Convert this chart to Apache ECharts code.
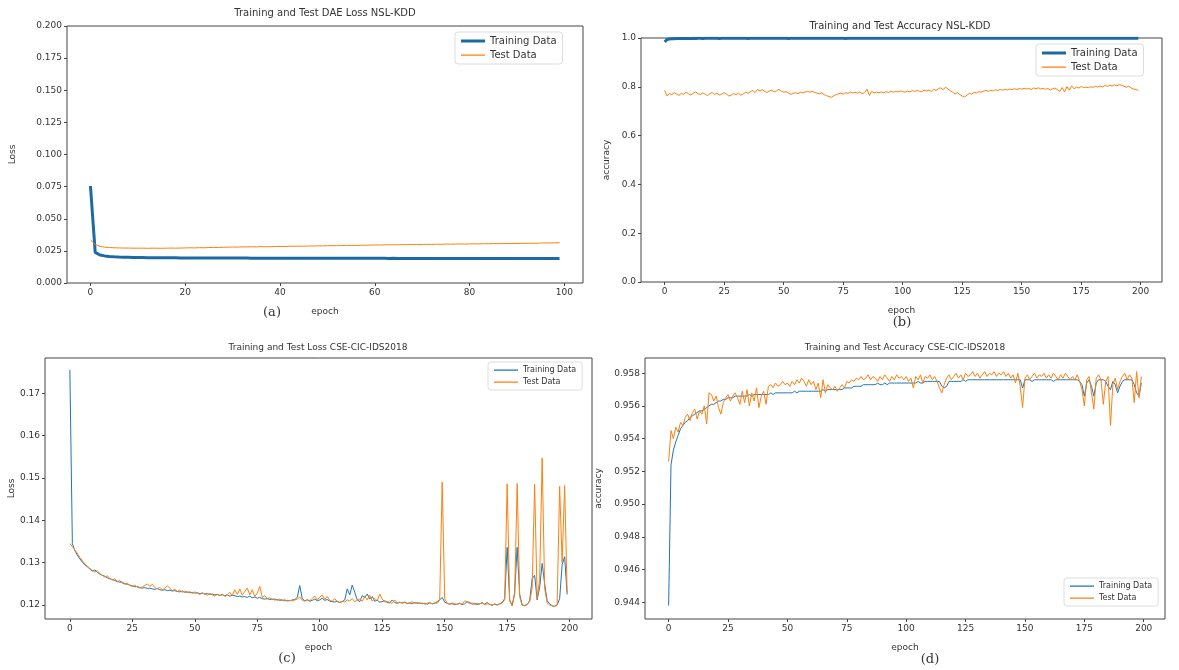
<!DOCTYPE html>
<html>
<head>
<meta charset="utf-8">
<script src="https://cdn.jsdelivr.net/npm/echarts@6/dist/echarts.min.js"></script>
<style>
  html, body { margin: 0; padding: 0; background: #fff; }
  #main { width: 1179px; height: 670px; }
</style>
</head>
<body>
<div id="main"></div>
<script>
// (a) DAE loss NSL-KDD, 100 epochs
var trainLossA = [
  0.0755, 0.0238, 0.0218, 0.0211, 0.0207, 0.0204, 0.0202, 0.0201, 0.0200, 0.0199,
  0.0198, 0.0198, 0.0197, 0.0197, 0.0197, 0.0196, 0.0196, 0.0196, 0.0196, 0.0195,
  0.0195, 0.0195, 0.0195, 0.0195, 0.0195, 0.0194, 0.0194, 0.0194, 0.0194, 0.0194,
  0.0194, 0.0194, 0.0194, 0.0194, 0.0193, 0.0193, 0.0193, 0.0193, 0.0193, 0.0193,
  0.0193, 0.0193, 0.0193, 0.0193, 0.0193, 0.0193, 0.0192, 0.0193, 0.0192, 0.0192,
  0.0192, 0.0192, 0.0192, 0.0192, 0.0192, 0.0192, 0.0192, 0.0192, 0.0192, 0.0192,
  0.0192, 0.0192, 0.0192, 0.0191, 0.0192, 0.0191, 0.0191, 0.0191, 0.0191, 0.0191,
  0.0191, 0.0191, 0.0191, 0.0191, 0.0191, 0.0191, 0.0191, 0.0191, 0.0191, 0.0191,
  0.0191, 0.0190, 0.0191, 0.0190, 0.0190, 0.0190, 0.0190, 0.0190, 0.0190, 0.0190,
  0.0190, 0.0190, 0.0190, 0.0190, 0.0190, 0.0190, 0.0190, 0.0190, 0.0190, 0.0190
];
var testLossA = [
  0.0335, 0.0300, 0.0285, 0.0279, 0.0276, 0.0274, 0.0273, 0.0272, 0.0272, 0.0271,
  0.0271, 0.0271, 0.0270, 0.0271, 0.0271, 0.0270, 0.0271, 0.0272, 0.0271, 0.0272,
  0.0273, 0.0274, 0.0273, 0.0275, 0.0274, 0.0276, 0.0277, 0.0276, 0.0278, 0.0279,
  0.0280, 0.0279, 0.0281, 0.0281, 0.0282, 0.0281, 0.0283, 0.0282, 0.0283, 0.0284,
  0.0285, 0.0284, 0.0286, 0.0286, 0.0287, 0.0286, 0.0288, 0.0288, 0.0289, 0.0289,
  0.0290, 0.0291, 0.0290, 0.0292, 0.0292, 0.0293, 0.0292, 0.0294, 0.0294, 0.0295,
  0.0296, 0.0295, 0.0297, 0.0298, 0.0297, 0.0298, 0.0299, 0.0298, 0.0300, 0.0299,
  0.0300, 0.0301, 0.0300, 0.0302, 0.0301, 0.0303, 0.0302, 0.0303, 0.0304, 0.0303,
  0.0304, 0.0305, 0.0304, 0.0306, 0.0305, 0.0307, 0.0306, 0.0307, 0.0308, 0.0307,
  0.0308, 0.0309, 0.0308, 0.0310, 0.0309, 0.0311, 0.0312, 0.0311, 0.0313, 0.0314
];

// (b) accuracy NSL-KDD, 200 epochs
var trainAccB = [
  0.984, 0.994, 0.996, 0.997, 0.997, 0.998, 0.998, 0.998, 0.998, 0.998,
  0.998, 0.998, 0.999, 0.998, 0.999, 0.999, 0.998, 0.999, 0.999, 0.999,
  0.999, 0.999, 0.999, 0.998, 0.999, 0.999, 0.999, 0.999, 0.999, 0.999,
  0.999, 0.999, 0.999, 0.999, 0.999, 0.998, 0.999, 0.999, 0.999, 0.999,
  0.999, 0.999, 0.999, 0.999, 0.999, 0.999, 0.999, 0.999, 0.999, 0.999,
  0.999, 0.999, 0.998, 0.999, 0.999, 0.999, 0.999, 0.999, 0.999, 0.999,
  0.999, 0.999, 0.999, 0.999, 0.999, 0.999, 0.999, 0.999, 0.999, 0.999,
  0.999, 0.999, 0.999, 0.999, 0.999, 0.999, 0.998, 0.999, 0.999, 0.999,
  0.999, 0.999, 0.999, 0.999, 0.999, 0.999, 0.999, 0.999, 0.999, 0.999,
  0.999, 0.999, 0.999, 0.999, 0.999, 0.999, 0.999, 0.999, 0.999, 0.999,
  0.999, 0.999, 0.999, 0.999, 0.999, 0.999, 0.999, 0.999, 0.999, 0.999,
  0.999, 0.999, 0.999, 0.999, 0.999, 0.999, 0.999, 0.999, 0.999, 0.999,
  0.999, 0.999, 0.999, 0.999, 0.999, 0.999, 0.999, 0.999, 0.999, 0.999,
  0.999, 0.999, 0.999, 0.999, 0.999, 0.999, 0.999, 0.999, 0.999, 0.999,
  0.999, 0.999, 0.999, 0.999, 0.999, 0.999, 0.999, 0.999, 0.999, 0.999,
  0.999, 0.999, 0.999, 0.999, 0.999, 0.999, 0.999, 0.999, 0.999, 0.999,
  0.999, 0.999, 0.999, 0.999, 0.999, 0.999, 0.999, 0.999, 0.999, 0.999,
  0.999, 0.999, 0.999, 0.999, 0.999, 0.999, 0.999, 0.999, 0.999, 0.999,
  0.999, 0.999, 0.999, 0.999, 0.999, 0.999, 0.999, 0.999, 0.999, 0.999,
  0.999, 0.999, 0.999, 0.999, 0.999, 0.999, 0.999, 0.999, 0.999, 0.999
];
var testAccB = [
  0.785, 0.762, 0.772, 0.768, 0.776, 0.770, 0.765, 0.773, 0.769, 0.778,
  0.771, 0.766, 0.774, 0.779, 0.772, 0.768, 0.775, 0.770, 0.764, 0.772,
  0.777, 0.769, 0.773, 0.767, 0.771, 0.776, 0.770, 0.762, 0.766, 0.772,
  0.768, 0.774, 0.766, 0.771, 0.778, 0.773, 0.780, 0.785, 0.776, 0.789,
  0.783, 0.788, 0.781, 0.777, 0.782, 0.786, 0.779, 0.784, 0.790, 0.782,
  0.778, 0.780, 0.774, 0.769, 0.773, 0.776, 0.772, 0.778, 0.775, 0.779,
  0.781, 0.778, 0.782, 0.777, 0.774, 0.772, 0.775, 0.768, 0.764, 0.760,
  0.757, 0.762, 0.768, 0.771, 0.774, 0.770, 0.776, 0.773, 0.778, 0.775,
  0.777, 0.774, 0.779, 0.772, 0.776, 0.790, 0.765, 0.781, 0.775, 0.778,
  0.776, 0.779, 0.775, 0.780, 0.777, 0.782, 0.778, 0.781, 0.779, 0.783,
  0.780, 0.778, 0.782, 0.779, 0.784, 0.781, 0.785, 0.782, 0.780, 0.786,
  0.783, 0.787, 0.781, 0.790, 0.785, 0.792, 0.796, 0.788, 0.799, 0.791,
  0.784, 0.778, 0.770, 0.776, 0.768, 0.762, 0.758, 0.766, 0.773, 0.770,
  0.777, 0.774, 0.780, 0.778, 0.782, 0.785, 0.781, 0.786, 0.783, 0.788,
  0.785, 0.789, 0.786, 0.790, 0.787, 0.791, 0.788, 0.792, 0.789, 0.793,
  0.790, 0.794, 0.791, 0.793, 0.789, 0.795, 0.792, 0.796, 0.791, 0.794,
  0.790, 0.793, 0.787, 0.792, 0.795, 0.788, 0.781, 0.797, 0.779, 0.801,
  0.786, 0.804, 0.792, 0.798, 0.795, 0.801, 0.797, 0.799, 0.796, 0.800,
  0.798, 0.802, 0.799, 0.803, 0.800, 0.805, 0.802, 0.806, 0.803, 0.808,
  0.804, 0.809, 0.806, 0.802, 0.798, 0.803, 0.795, 0.791, 0.788, 0.786
];

// (c) loss CSE-CIC-IDS2018, 200 epochs
var trainLossC = [
  0.1755, 0.1345, 0.1328, 0.1318, 0.1309, 0.1301, 0.1295, 0.1290, 0.1285, 0.1280,
  0.1283, 0.1277, 0.1273, 0.1270, 0.1268, 0.1264, 0.1262, 0.1260, 0.1258, 0.1255,
  0.1257, 0.1252, 0.1250, 0.1249, 0.1247, 0.1245, 0.1243, 0.1244, 0.1241, 0.1240,
  0.1241, 0.1239, 0.1240, 0.1238, 0.1237, 0.1239, 0.1236, 0.1235, 0.1236, 0.1234,
  0.1235, 0.1233, 0.1234, 0.1232, 0.1231, 0.1233, 0.1230, 0.1231, 0.1229, 0.1230,
  0.1228, 0.1229, 0.1227, 0.1228, 0.1226, 0.1227, 0.1225, 0.1226, 0.1224, 0.1225,
  0.1223, 0.1224, 0.1222, 0.1224, 0.1221, 0.1223, 0.1222, 0.1220, 0.1221, 0.1219,
  0.1220, 0.1218, 0.1221, 0.1217, 0.1219, 0.1216, 0.1218, 0.1215, 0.1214, 0.1215,
  0.1213, 0.1214, 0.1212, 0.1213, 0.1211, 0.1212, 0.1210, 0.1211, 0.1210, 0.1212,
  0.1213, 0.1218, 0.1246, 0.1215, 0.1210, 0.1212, 0.1209, 0.1211, 0.1214, 0.1210,
  0.1212, 0.1216, 0.1211, 0.1213, 0.1209, 0.1208, 0.1207, 0.1209, 0.1206, 0.1208,
  0.1212, 0.1238, 0.1224, 0.1247, 0.1230, 0.1212, 0.1208, 0.1222, 0.1218, 0.1226,
  0.1214, 0.1220, 0.1209, 0.1211, 0.1207, 0.1208, 0.1210, 0.1206, 0.1205, 0.1212,
  0.1206, 0.1204, 0.1206, 0.1205, 0.1207, 0.1204, 0.1205, 0.1203, 0.1206, 0.1204,
  0.1205, 0.1203, 0.1204, 0.1202, 0.1205, 0.1203, 0.1204, 0.1208, 0.1212, 0.1218,
  0.1207, 0.1204, 0.1202, 0.1203, 0.1201, 0.1202, 0.1204, 0.1201, 0.1203, 0.1208,
  0.1206, 0.1202, 0.1204, 0.1201, 0.1203, 0.1205, 0.1202, 0.1206, 0.1201, 0.1200,
  0.1202, 0.1200, 0.1203, 0.1206, 0.1215, 0.1336, 0.1212, 0.1199, 0.1230, 0.1336,
  0.1225, 0.1200, 0.1199, 0.1201, 0.1210, 0.1262, 0.1270, 0.1212, 0.1242, 0.1298,
  0.1250, 0.1210, 0.1203, 0.1198, 0.1197, 0.1200, 0.1215, 0.1295, 0.1314, 0.1225
];
var testLossC = [
  0.1345, 0.1338, 0.1330, 0.1322, 0.1312, 0.1305, 0.1297, 0.1292, 0.1286, 0.1282,
  0.1278, 0.1281, 0.1274, 0.1270, 0.1266, 0.1269, 0.1262, 0.1259, 0.1262, 0.1256,
  0.1253, 0.1255, 0.1249, 0.1252, 0.1246, 0.1244, 0.1247, 0.1242, 0.1240, 0.1243,
  0.1246, 0.1250, 0.1244, 0.1249, 0.1241, 0.1238, 0.1242, 0.1236, 0.1240, 0.1245,
  0.1240, 0.1234, 0.1237, 0.1232, 0.1235, 0.1230, 0.1233, 0.1229, 0.1232, 0.1227,
  0.1231, 0.1228, 0.1225, 0.1229, 0.1226, 0.1223, 0.1227, 0.1224, 0.1221, 0.1225,
  0.1222, 0.1226, 0.1220, 0.1224, 0.1230, 0.1222, 0.1236, 0.1225, 0.1238, 0.1223,
  0.1232, 0.1240, 0.1224, 0.1236, 0.1220, 0.1228, 0.1244, 0.1218, 0.1222, 0.1215,
  0.1217, 0.1213, 0.1215, 0.1211, 0.1214, 0.1210, 0.1213, 0.1209, 0.1211, 0.1210,
  0.1212, 0.1214, 0.1219, 0.1211, 0.1209, 0.1213, 0.1210, 0.1216, 0.1221, 0.1212,
  0.1218, 0.1224, 0.1213, 0.1220, 0.1211, 0.1209, 0.1215, 0.1208, 0.1206, 0.1209,
  0.1207, 0.1212, 0.1210, 0.1215, 0.1208, 0.1211, 0.1214, 0.1209, 0.1220, 0.1212,
  0.1223, 0.1209, 0.1216, 0.1210, 0.1226, 0.1214, 0.1207, 0.1209, 0.1206, 0.1204,
  0.1212, 0.1205, 0.1207, 0.1204, 0.1206, 0.1203, 0.1205, 0.1208, 0.1204, 0.1206,
  0.1203, 0.1205, 0.1202, 0.1204, 0.1206, 0.1203, 0.1205, 0.1204, 0.1212, 0.1490,
  0.1215, 0.1204, 0.1202, 0.1205, 0.1203, 0.1201, 0.1204, 0.1202, 0.1210, 0.1207,
  0.1203, 0.1205, 0.1201, 0.1204, 0.1202, 0.1207, 0.1200, 0.1203, 0.1202, 0.1199,
  0.1203, 0.1200, 0.1202, 0.1205, 0.1212, 0.1486, 0.1210, 0.1198, 0.1225, 0.1487,
  0.1220, 0.1199, 0.1198, 0.1201, 0.1208, 0.1240, 0.1485, 0.1215, 0.1260, 0.1547,
  0.1240, 0.1205, 0.1200, 0.1198, 0.1196, 0.1202, 0.1480, 0.1300, 0.1482, 0.1230
];

// (d) accuracy CSE-CIC-IDS2018, 200 epochs
var trainAccD = [
  0.9438, 0.9524, 0.9533, 0.9538, 0.9542, 0.9546, 0.9548, 0.9550, 0.9551, 0.9553,
  0.9554, 0.9555, 0.9556, 0.9557, 0.9557, 0.9558, 0.9559, 0.9560, 0.9561, 0.9561,
  0.9562, 0.9563, 0.9563, 0.9564, 0.9564, 0.9565, 0.9565, 0.9565, 0.9566, 0.9566,
  0.9566, 0.9566, 0.9566, 0.9566, 0.9567, 0.9566, 0.9567, 0.9567, 0.9567, 0.9567,
  0.9567, 0.9567, 0.9567, 0.9568, 0.9567, 0.9568, 0.9568, 0.9568, 0.9568, 0.9568,
  0.9568, 0.9568, 0.9568, 0.9569, 0.9568, 0.9569, 0.9569, 0.9569, 0.9569, 0.9569,
  0.9569, 0.9569, 0.9569, 0.9569, 0.9569, 0.9570, 0.9569, 0.9570, 0.9570, 0.9570,
  0.9570, 0.9570, 0.9570, 0.9570, 0.9571, 0.9571, 0.9571, 0.9571, 0.9572, 0.9572,
  0.9572, 0.9572, 0.9573, 0.9573, 0.9573, 0.9573, 0.9573, 0.9573, 0.9574, 0.9573,
  0.9573, 0.9574, 0.9573, 0.9574, 0.9574, 0.9574, 0.9574, 0.9574, 0.9574, 0.9574,
  0.9574, 0.9574, 0.9574, 0.9574, 0.9574, 0.9575, 0.9574, 0.9574, 0.9575, 0.9575,
  0.9575, 0.9575, 0.9575, 0.9575, 0.9575, 0.9572, 0.9571, 0.9572, 0.9575, 0.9575,
  0.9575, 0.9575, 0.9575, 0.9575, 0.9576, 0.9575, 0.9576, 0.9576, 0.9576, 0.9576,
  0.9576, 0.9576, 0.9576, 0.9576, 0.9576, 0.9576, 0.9576, 0.9576, 0.9576, 0.9576,
  0.9576, 0.9576, 0.9576, 0.9576, 0.9576, 0.9576, 0.9576, 0.9576, 0.9576, 0.9571,
  0.9576, 0.9576, 0.9576, 0.9575, 0.9576, 0.9576, 0.9576, 0.9576, 0.9576, 0.9576,
  0.9576, 0.9576, 0.9575, 0.9576, 0.9576, 0.9576, 0.9576, 0.9576, 0.9576, 0.9576,
  0.9576, 0.9576, 0.9576, 0.9575, 0.9573, 0.9566, 0.9574, 0.9576, 0.9572, 0.9566,
  0.9574, 0.9576, 0.9576, 0.9576, 0.9575, 0.9572, 0.9570, 0.9575, 0.9573, 0.9568,
  0.9572, 0.9575, 0.9576, 0.9576, 0.9576, 0.9576, 0.9573, 0.9568, 0.9566, 0.9574
];
var testAccD = [
  0.9526, 0.9545, 0.9540, 0.9547, 0.9544, 0.9550, 0.9548, 0.9553, 0.9555, 0.9551,
  0.9556, 0.9558, 0.9552, 0.9557, 0.9555, 0.9560, 0.9549, 0.9568, 0.9567, 0.9563,
  0.9566, 0.9559, 0.9555, 0.9562, 0.9565, 0.9567, 0.9563, 0.9566, 0.9568, 0.9565,
  0.9561, 0.9569, 0.9562, 0.9570, 0.9560, 0.9568, 0.9563, 0.9571, 0.9559, 0.9566,
  0.9569, 0.9561, 0.9572, 0.9573, 0.9571, 0.9574, 0.9572, 0.9573, 0.9575, 0.9573,
  0.9574, 0.9572, 0.9575, 0.9573, 0.9576, 0.9574, 0.9577, 0.9575, 0.9572, 0.9576,
  0.9573, 0.9575, 0.9570, 0.9574, 0.9565, 0.9576, 0.9568, 0.9573, 0.9571, 0.9570,
  0.9572, 0.9569, 0.9571, 0.9573, 0.9571, 0.9575, 0.9574, 0.9576, 0.9575, 0.9577,
  0.9576, 0.9578, 0.9576, 0.9577, 0.9579, 0.9576, 0.9578, 0.9577, 0.9575, 0.9578,
  0.9576, 0.9579, 0.9577, 0.9575, 0.9578, 0.9576, 0.9579, 0.9577, 0.9578, 0.9576,
  0.9578, 0.9575, 0.9577, 0.9571, 0.9578, 0.9576, 0.9579, 0.9574, 0.9578, 0.9577,
  0.9579, 0.9576, 0.9578, 0.9575, 0.9571, 0.9568, 0.9573, 0.9577, 0.9579, 0.9576,
  0.9578, 0.9580, 0.9577, 0.9579, 0.9576, 0.9580, 0.9578, 0.9579, 0.9581, 0.9578,
  0.9580, 0.9577, 0.9579, 0.9581, 0.9578, 0.9580, 0.9579, 0.9581, 0.9578, 0.9580,
  0.9579, 0.9581, 0.9578, 0.9580, 0.9577, 0.9579, 0.9574, 0.9580, 0.9572, 0.9559,
  0.9577, 0.9579, 0.9576, 0.9578, 0.9580, 0.9577, 0.9579, 0.9578, 0.9580, 0.9577,
  0.9579, 0.9577, 0.9580, 0.9578, 0.9576, 0.9579, 0.9577, 0.9580, 0.9578, 0.9576,
  0.9578, 0.9576, 0.9579, 0.9575, 0.9570, 0.9560, 0.9576, 0.9578, 0.9568, 0.9558,
  0.9577, 0.9579, 0.9576, 0.9561, 0.9575, 0.9578, 0.9548, 0.9573, 0.9577, 0.9570,
  0.9575, 0.9578, 0.9580, 0.9576, 0.9579, 0.9577, 0.9562, 0.9581, 0.9565, 0.9578
];

// tick values
var xTicksA = [0, 20, 40, 60, 80, 100];
var xTicks200 = [0, 25, 50, 75, 100, 125, 150, 175, 200];
var yTicksC = [0.12, 0.13, 0.14, 0.15, 0.16, 0.17];
var yTicksD = [0.944, 0.946, 0.948, 0.950, 0.952, 0.954, 0.956, 0.958];

var BLUE = '#1f77b4';
var DARKBLUE = '#1c6aa3';
var ORANGE = '#ff7f0e';
var AXIS = '#444';
var TEXT = '#333';
var FONT = 'DejaVu Sans';

// legend line icons (24x8 box, stroke drawn as a thin strip in the middle)
var ICON_THICK = 'path://M0,0h24v0.01h-24zM0,2.5h24v3h-24zM0,7.99h24v0.01h-24z';
var ICON_THIN = 'path://M0,0h24v0.01h-24zM0,3.4h24v1.3h-24zM0,7.99h24v0.01h-24z';

function pairs(arr) {
  return arr.map(function (v, i) { return [i, v]; });
}

function xAxis(idx, min, max, ticks) {
  return {
    type: 'value', gridIndex: idx, min: min, max: max,
    name: 'epoch', nameLocation: 'middle', nameGap: 24,
    nameTextStyle: { color: TEXT, fontFamily: FONT, fontSize: 9 },
    axisLine: { show: false, onZero: false },
    axisTick: { show: true, length: 3, lineStyle: { color: AXIS }, customValues: ticks },
    axisLabel: { color: TEXT, fontFamily: FONT, fontSize: 9, margin: 5, customValues: ticks },
    splitLine: { show: false }
  };
}

function yAxis(idx, name, gap, cfg) {
  var ax = {
    type: 'value', gridIndex: idx,
    name: name, nameLocation: 'middle', nameGap: gap, nameRotate: 90,
    nameTextStyle: { color: TEXT, fontFamily: FONT, fontSize: 9 },
    axisLine: { show: false, onZero: false },
    axisTick: { show: true, length: 3, lineStyle: { color: AXIS } },
    axisLabel: { color: TEXT, fontFamily: FONT, fontSize: 9, margin: 5 },
    splitLine: { show: false }
  };
  for (var k in cfg) {
    if (k === 'ticks') {
      ax.axisTick.customValues = cfg.ticks;
      ax.axisLabel.customValues = cfg.ticks;
    } else if (k === 'digits') {
      (function (d) {
        ax.axisLabel.formatter = function (v) { return v.toFixed(d); };
      })(cfg.digits);
    } else {
      ax[k] = cfg[k];
    }
  }
  return ax;
}

function legend(left, top, thick, size) {
  return {
    orient: 'vertical', left: left, top: top,
    itemWidth: 24, itemHeight: 8, itemGap: 4,
    padding: [4, 6, 4, 6],
    borderColor: '#ddd', borderWidth: 1, borderRadius: 3,
    backgroundColor: 'rgba(255,255,255,0.85)',
    textStyle: { color: TEXT, fontFamily: FONT, fontSize: size },
    data: [
      { name: 'Training Data', icon: thick ? ICON_THICK : ICON_THIN, itemStyle: { color: thick ? DARKBLUE : BLUE } },
      { name: 'Test Data', icon: ICON_THIN, itemStyle: { color: ORANGE } }
    ]
  };
}

function line(name, data, xi, color, width, z) {
  return {
    name: name, type: 'line', xAxisIndex: xi, yAxisIndex: xi,
    data: data, symbol: 'none', showSymbol: false, animation: false,
    lineStyle: { color: color, width: width }, itemStyle: { color: color }, z: z
  };
}

function txt(x, y, s, size, family) {
  return {
    type: 'text', x: x, y: y,
    style: { text: s, fill: TEXT, font: size + 'px "' + (family || FONT) + '"', textAlign: 'center', textVerticalAlign: 'middle' }
  };
}

var myChart = echarts.init(document.getElementById('main'), null, { renderer: 'canvas' });

var gridStyle = { show: true, borderColor: AXIS, borderWidth: 1, backgroundColor: '#fff' };

var option = {
  backgroundColor: '#fff',
  animation: false,
  grid: [
    Object.assign({ left: 67, top: 26, width: 516, height: 257 }, gridStyle),
    Object.assign({ left: 641, top: 38, width: 521, height: 244 }, gridStyle),
    Object.assign({ left: 45, top: 358, width: 547, height: 261 }, gridStyle),
    Object.assign({ left: 645, top: 358, width: 520, height: 261 }, gridStyle)
  ],
  xAxis: [
    xAxis(0, -4.95, 103.95, xTicksA),
    xAxis(1, -9.95, 208.95, xTicks200),
    xAxis(2, -9.95, 208.95, xTicks200),
    xAxis(3, -9.95, 208.95, xTicks200)
  ],
  yAxis: [
    yAxis(0, 'Loss', 50, { min: 0, max: 0.2, interval: 0.025, digits: 3 }),
    yAxis(1, 'accuracy', 30, { min: 0, max: 1, interval: 0.2, digits: 1 }),
    yAxis(2, 'Loss', 28, { min: 0.1167, max: 0.1783, ticks: yTicksC, digits: 2 }),
    yAxis(3, 'accuracy', 42, { min: 0.94298, max: 0.95893, ticks: yTicksD, digits: 3 })
  ],
  legend: [
    legend(455, 32, true, 10),
    legend(1036, 44, true, 10),
    legend(488, 362, false, 8),
    legend(1064, 578, false, 8)
  ],
  series: [
    line('Training Data', pairs(trainLossA), 0, DARKBLUE, 3, 2),
    line('Test Data', pairs(testLossA), 0, ORANGE, 1, 3),
    line('Training Data', pairs(trainAccB), 1, DARKBLUE, 3, 2),
    line('Test Data', pairs(testAccB), 1, ORANGE, 1, 3),
    line('Training Data', pairs(trainLossC), 2, BLUE, 1, 2),
    line('Test Data', pairs(testLossC), 2, ORANGE, 1, 3),
    line('Training Data', pairs(trainAccD), 3, BLUE, 1, 2),
    line('Test Data', pairs(testAccD), 3, ORANGE, 1, 3)
  ],
  graphic: [
    txt(325, 13, 'Training and Test DAE Loss NSL-KDD', 10),
    txt(900, 26, 'Training and Test Accuracy NSL-KDD', 10),
    txt(318, 348, 'Training and Test Loss CSE-CIC-IDS2018', 9),
    txt(905, 348, 'Training and Test Accuracy CSE-CIC-IDS2018', 9),
    txt(272, 313, '(a)', 13, 'DejaVu Serif'),
    txt(902, 323, '(b)', 13, 'DejaVu Serif'),
    txt(287, 659, '(c)', 13, 'DejaVu Serif'),
    txt(930, 660, '(d)', 13, 'DejaVu Serif')
  ]
};

if (option && typeof option === 'object') {
  myChart.setOption(option);
}
</script>
</body>
</html>
